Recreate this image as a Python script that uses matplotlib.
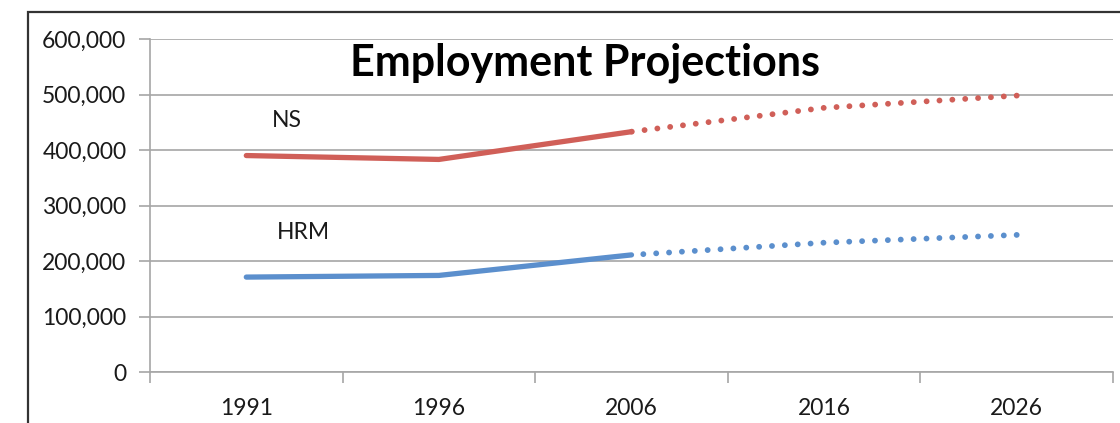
import numpy as np
import matplotlib
matplotlib.use('Agg')
import matplotlib.pyplot as plt
from matplotlib.patches import Rectangle
from matplotlib.ticker import FuncFormatter

plt.rcParams['font.family'] = ['Lato', 'DejaVu Sans']

years = ['1991', '1996', '2006', '2016', '2026']
ns_actual = [390000, 383000, 433000]
ns_proj = [433000, 476000, 498000]
hrm_actual = [171000, 174000, 211000]
hrm_proj = [211000, 233000, 247000]

red = '#d05f58'
blue = '#5b8fcd'
grid_c = '#a6a6a6'
txt_c = '#1a1a1a'

fig = plt.figure(figsize=(11.2, 4.23), dpi=100)
ax = fig.add_axes([150/1120, 1 - 372/423, 963/1120, 333/423])

x = np.arange(len(years))
dots = (0, (0.01, 2.2))
ax.plot(x[:3], ns_actual, color=red, lw=3.8, solid_capstyle='round')
# projections drawn backwards so a dot lands on the 2026 end
ax.plot(x[2:][::-1], ns_proj[::-1], color=red, lw=4.2, linestyle=dots, dash_capstyle='round')
ax.plot(x[:3], hrm_actual, color=blue, lw=3.8, solid_capstyle='round')
ax.plot(x[2:][::-1], hrm_proj[::-1], color=blue, lw=4.2, linestyle=dots, dash_capstyle='round')

ax.set_xlim(-0.5, len(years) - 0.5)
ax.set_ylim(0, 600000)
ax.set_yticks(np.arange(0, 600001, 100000))
ax.yaxis.set_major_formatter(FuncFormatter(lambda v, p: f'{int(v):,}'))
ax.yaxis.grid(True, color=grid_c, lw=1.2)
ax.set_axisbelow(True)

# category ticks sit between the years, labels in the middle
ax.set_xticks(np.arange(-0.5, len(years)), minor=False)
ax.set_xticklabels([])
ax.set_xticks(x, minor=True)
ax.set_xticklabels(years, minor=True)
ax.tick_params(axis='x', which='major', length=8, color=grid_c, width=1.2)
ax.tick_params(axis='x', which='minor', length=0, pad=19, labelsize=16.5, labelcolor=txt_c)
ax.tick_params(axis='y', length=8, color=grid_c, width=1.2, pad=9, labelsize=16.5, labelcolor=txt_c)

for s in ['top', 'right']:
    ax.spines[s].set_visible(False)
for s in ['left', 'bottom']:
    ax.spines[s].set_color(grid_c)
    ax.spines[s].set_linewidth(1.2)

ax.text(0.142, 0.754, 'NS', transform=ax.transAxes, fontsize=16.5, ha='center', va='center', color=txt_c)
ax.text(0.159, 0.42, 'HRM', transform=ax.transAxes, fontsize=16.5, ha='center', va='center', color=txt_c)

fig.text(585/1120, 1 - 63/423, 'Employment Projections', fontsize=31, fontweight='bold',
         ha='center', va='center', color='black')

fig.patches.append(Rectangle((28/1120, -0.2), 1.2, 1.2 - 12/423, transform=fig.transFigure,
                             fill=False, edgecolor='#333333', lw=1.6, clip_on=False))

fig.savefig('out.png', dpi=100)
